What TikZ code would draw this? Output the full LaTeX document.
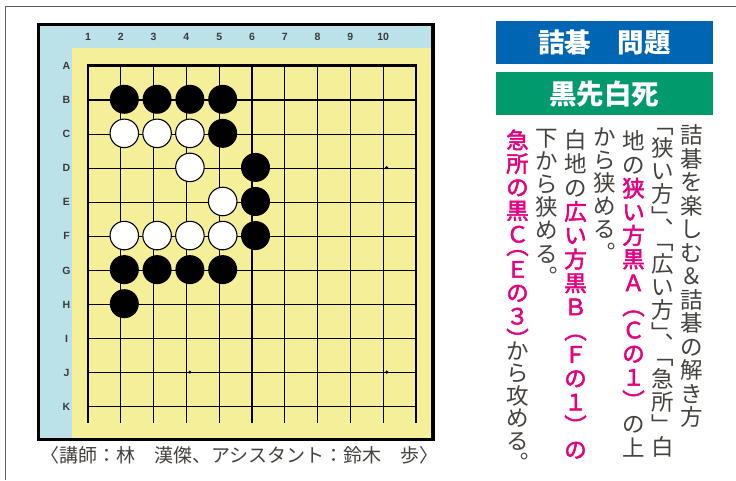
\documentclass[tikz,border=0pt]{standalone}
\usepackage{fontspec}
\setmainfont{Liberation Sans}
\newfontfamily\jp{Noto Sans CJK JP}
\newfontfamily\jpm[FakeBold=2.2]{Noto Sans CJK JP}
\newfontfamily\lab{Liberation Sans}
\definecolor{framegray}{HTML}{5E5E5E}
\definecolor{boardblue}{HTML}{BCE2E9}
\definecolor{boardyellow}{HTML}{F4EF98}
\definecolor{hblue}{HTML}{0066B3}
\definecolor{hgreen}{HTML}{009A6D}
\definecolor{txtgray}{HTML}{45413F}
\definecolor{pinkc}{HTML}{E4007F}
\definecolor{labgray}{HTML}{3A3A3A}
\tikzset{
  gridline/.style={line width=1.2pt, black},
  edgeline/.style={line width=2.4pt, black},
  lbl/.style={font=\lab\bfseries\fontsize{10.5}{10.5}\selectfont, text=labgray, inner sep=0pt},
  bstone/.style={circle, fill=black, minimum size=29pt, inner sep=0pt},
  wstone/.style={circle, fill=white, draw=black, line width=1.1pt, minimum size=28.5pt, inner sep=0pt},
  star/.style={circle, fill=black, minimum size=3.4pt, inner sep=0pt},
  vch/.style={inner sep=0pt, text height=19.8pt, text depth=2.7pt, font=\jp\fontsize{22.5}{22.5}\selectfont, text=txtgray},
  vpk/.style={vch, text=pinkc, font=\jpm\fontsize{22.5}{22.5}\selectfont},
  headbox/.style={minimum width=216.7pt, minimum height=43.5pt, inner sep=0pt, text=white},
}
\begin{document}
\begin{tikzpicture}[x=1pt,y=-1pt]
\useasboundingbox (0,0) rectangle (736,480);
\fill[white] (0,0) rectangle (736,480);
% outer frame
\draw[framegray, line width=1.8pt] (736,6.5) -- (5.5,6.5) -- (5.5,480);
% board
\fill[boardblue] (38,24) rectangle (433,440);
\fill[boardyellow] (71.7,47.7) rectangle (433,440);
\draw[black, line width=3pt] (38.5,24.5) rectangle (432.5,439.5);
\fill[black] (431,23) rectangle (435,441);
% grid
\foreach \i in {0,...,10}
  \draw[gridline] ({88+\i*32.8},66) -- ({88+\i*32.8},423);
\foreach \j in {0,...,10}
  \draw[gridline] (88,{66+\j*34.07}) -- (416,{66+\j*34.07});
\draw[edgeline] (88,423) -- (88,65) -- (417,65);
% labels
\foreach \n [count=\i from 0] in {1,2,3,4,5,6,7,8,9,10}
  \node[lbl] (col\n) at ({88+\i*32.8},36.5) {\n};
\foreach \r [count=\j from 0] in {A,B,C,D,E,F,G,H,I,J,K}
  \node[lbl] (row\r) at (66.5,{66+\j*34.07}) {\r};
% star points
\foreach \c/\r in {10/4,4/10,10/10}
  \node[star] (s-\c-\r) at ({88+(\c-1)*32.8+3.5},{66+(\r-1)*34.07-0.5}) {};
% stones
\foreach \c/\r in {2/2,3/2,4/2,5/2,5/3,6/4,6/5,6/6,2/7,3/7,4/7,5/7,2/8}
  \node[bstone] (b-\c-\r) at ({88+(\c-1)*32.8+3.5},{66+(\r-1)*34.07-0.8}) {};
\foreach \c/\r in {2/3,3/3,4/3,4/4,5/5,2/6,3/6,4/6,5/6}
  \node[wstone] (w-\c-\r) at ({88+(\c-1)*32.8+3.5},{66+(\r-1)*34.07-0.8}) {};
% caption
\node[font=\jp\fontsize{19}{19}\selectfont, text=txtgray, inner sep=0pt] (cap) at (239.5,455.5) {〈講師：林　漢傑、アシスタント：鈴木　歩〉};
% headers
\node[headbox, fill=hblue, font=\jp\bfseries\fontsize{26.5}{26.5}\selectfont] (h1) at (604.35,42.65) {詰碁　問題};
\node[headbox, fill=hgreen, font=\jp\bfseries\fontsize{27.5}{27.5}\selectfont] (h2) at (604.35,93.7) {黒先白死};
% vertical text
% column 1
\foreach \ch [count=\k from 0] in {詰,碁,を,楽,し,む,＆,詰,碁,の,解,き,方}
  \node[vch] (c1-\k) at (691.5,{135+\k*23.5}) {\ch};
% column 2
\foreach \ch/\yy [count=\k] in {﹁/125,狭/148.05,い/171.15,方/194.25,﹂/217.35,︑/228.9,﹁/240.45,広/263.55,い/286.65,方/309.75,﹂/332.85,︑/344.4,﹁/355.95,急/379.05,所/402.15,﹂/425.25,白/446.5}
  \node[vch] (c2-\k) at (662.5,\yy) {\ch};
% column 3
\foreach \ch/\st [count=\k from 0] in {地/vch,の/vch,狭/vpk,い/vpk,方/vpk,黒/vpk,Ａ/vpk,︵/vpk,Ｃ/vpk,の/vpk,１/vpk,︶/vpk,の/vch,上/vch}
  \node[\st] (c3-\k) at (633.5,{141+\k*23.6}) {\ch};
% column 4
\foreach \ch [count=\k from 0] in {か,ら,狭,め,る,︒}
  \node[vch] (c4-\k) at (604.5,{137+\k*23.1}) {\ch};
% column 5
\foreach \ch/\st [count=\k from 0] in {白/vch,地/vch,の/vch,広/vpk,い/vpk,方/vpk,黒/vpk,Ｂ/vpk,︵/vpk,Ｆ/vpk,の/vpk,１/vpk,︶/vpk,の/vpk}
  \node[\st] (c5-\k) at (575.5,{140+\k*23.8}) {\ch};
% column 6
\foreach \ch [count=\k from 0] in {下,か,ら,狭,め,る,︒}
  \node[vch] (c6-\k) at (546.5,{138+\k*23.1}) {\ch};
% column 7
\foreach \ch/\st/\yy [count=\k] in {急/vpk/140,所/vpk/163.5,の/vpk/187,黒/vpk/210.5,Ｃ/vpk/234,︵/vpk/245.75,Ｅ/vpk/269,の/vpk/292.5,３/vpk/316,︶/vpk/339,か/vch/350.5,ら/vch/373,攻/vch/395.5,め/vch/418,る/vch/440.5,︒/vch/463}
  \node[\st] (c7-\k) at (517.5,\yy) {\ch};
\end{tikzpicture}
\end{document}
